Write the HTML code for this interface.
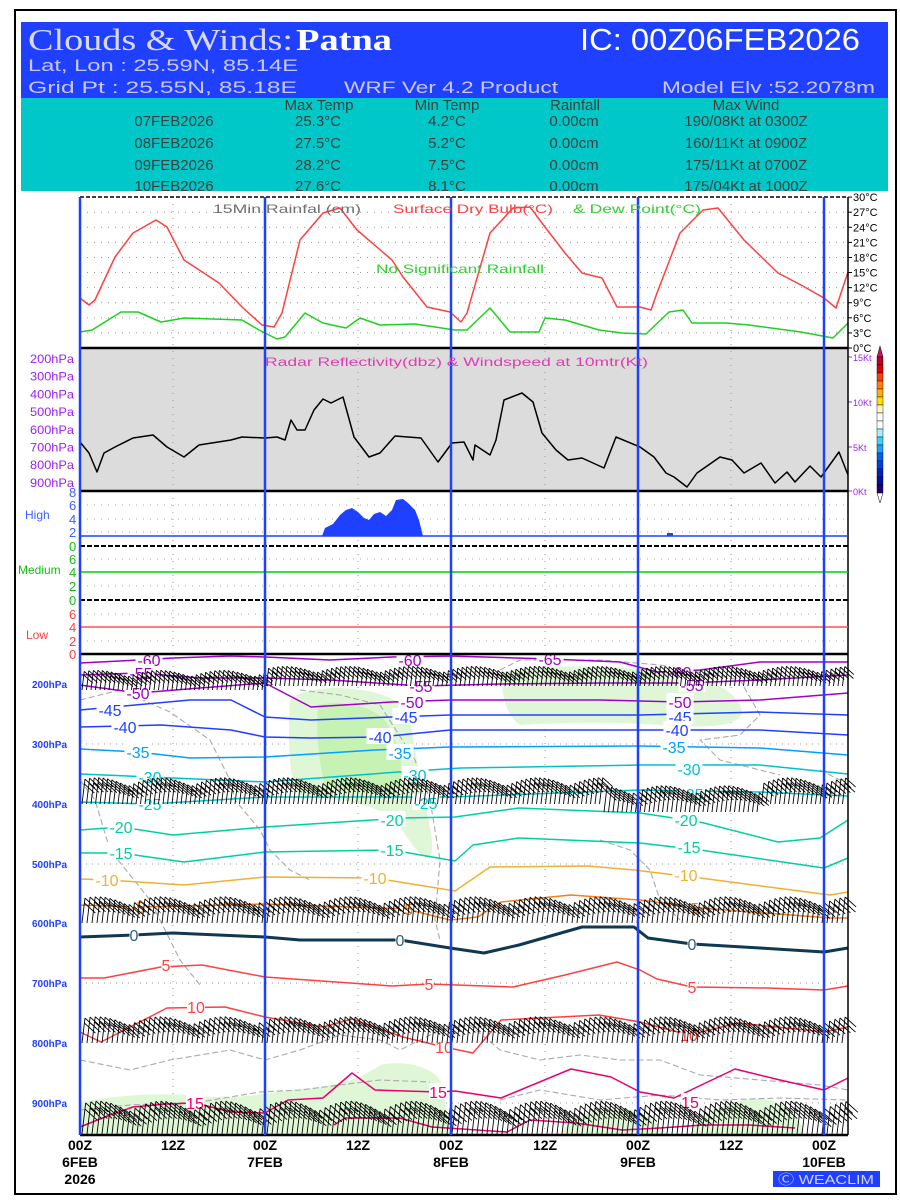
<!DOCTYPE html>
<html><head><meta charset="utf-8"><style>
html,body{margin:0;padding:0;background:#fff;}
svg{display:block;font-family:"Liberation Sans",sans-serif;}
</style></head><body>
<svg id="s" width="900" height="1200" viewBox="0 0 900 1200" xmlns="http://www.w3.org/2000/svg">
<rect x="0" y="0" width="900" height="1200" fill="#fff"/>
<rect x="15" y="10" width="881" height="1184" fill="none" stroke="#000" stroke-width="2"/>
<rect x="21" y="22" width="867" height="76" fill="#2040ff"/>
<rect x="21" y="98" width="867" height="93" fill="#00c8c8"/>
<text x="28" y="50" font-size="31" fill="#d8d8f0" font-family="Liberation Serif,serif" textLength="265" lengthAdjust="spacingAndGlyphs">Clouds &amp; Winds:</text>
<text x="296" y="50" font-size="31" fill="#fff" font-weight="bold" font-family="Liberation Serif,serif" textLength="96" lengthAdjust="spacingAndGlyphs">Patna</text>
<text x="580" y="50" font-size="31" fill="#fff" textLength="280" lengthAdjust="spacingAndGlyphs">IC: 00Z06FEB2026</text>
<text x="28" y="71" font-size="17" fill="#c8c8f8" textLength="270" lengthAdjust="spacingAndGlyphs">Lat, Lon : 25.59N, 85.14E</text>
<text x="28" y="93" font-size="17" fill="#c8c8f8" textLength="269" lengthAdjust="spacingAndGlyphs">Grid Pt  : 25.55N, 85.18E</text>
<text x="344" y="93" font-size="17" fill="#c8c8f8" textLength="214" lengthAdjust="spacingAndGlyphs">WRF Ver 4.2 Product</text>
<text x="662" y="93" font-size="17" fill="#c8c8f8" textLength="213" lengthAdjust="spacingAndGlyphs">Model Elv :52.2078m</text>
<g font-size="15" fill="#404040" text-anchor="middle">
<text x="319" y="110">Max Temp</text><text x="447" y="110">Min Temp</text><text x="575" y="110">Rainfall</text><text x="746" y="110">Max Wind</text>
<text x="174" y="126">07FEB2026</text><text x="318" y="126">25.3°C</text><text x="447" y="126">4.2°C</text><text x="574" y="126">0.00cm</text><text x="746" y="126">190/08Kt at 0300Z</text>
<text x="174" y="148">08FEB2026</text><text x="318" y="148">27.5°C</text><text x="447" y="148">5.2°C</text><text x="574" y="148">0.00cm</text><text x="746" y="148">160/11Kt at 0900Z</text>
<text x="174" y="170">09FEB2026</text><text x="318" y="170">28.2°C</text><text x="447" y="170">7.5°C</text><text x="574" y="170">0.00cm</text><text x="746" y="170">175/11Kt at 0700Z</text>
<text x="174" y="191">10FEB2026</text><text x="318" y="191">27.6°C</text><text x="447" y="191">8.1°C</text><text x="574" y="191">0.00cm</text><text x="746" y="191">175/04Kt at 1000Z</text>
</g>
<rect x="80" y="348" width="768" height="143" fill="#dcdcdc"/>
<g id="grid"></g>
<g id="shade"></g>
<g id="lines"></g>
<g id="barbs" stroke="#000" stroke-width="0.9" fill="none"></g>
<g id="labs"></g>
<line x1="80" y1="197" x2="848" y2="197" stroke="#000" stroke-width="1.5" stroke-dasharray="4,2"/>
<line x1="80" y1="348" x2="848" y2="348" stroke="#000" stroke-width="2.5"/>
<line x1="80" y1="491" x2="848" y2="491" stroke="#000" stroke-width="2.5"/>
<line x1="80" y1="546" x2="848" y2="546" stroke="#000" stroke-width="2" stroke-dasharray="5,2"/>
<line x1="80" y1="600" x2="848" y2="600" stroke="#000" stroke-width="2" stroke-dasharray="5,2"/>
<line x1="80" y1="654" x2="848" y2="654" stroke="#000" stroke-width="2.5"/>
<line x1="80" y1="1135" x2="848" y2="1135" stroke="#000" stroke-width="2.5"/>
<line x1="848" y1="197" x2="848" y2="1135" stroke="#000" stroke-width="1.5"/>
<line x1="80" y1="536" x2="848" y2="536" stroke="#2040ff" stroke-width="1.5"/>
<line x1="80" y1="572" x2="848" y2="572" stroke="#00d000" stroke-width="1.5"/>
<line x1="80" y1="627" x2="848" y2="627" stroke="#ff5050" stroke-width="1.5"/>
<g id="vb" stroke="#2040ff" stroke-width="2.5"></g>
<g font-size="12" fill="#e03cb0"><text x="265" y="366" textLength="383" lengthAdjust="spacingAndGlyphs">Radar Reflectivity(dbz) &amp; Windspeed at 10mtr(Kt)</text></g>
<text x="213" y="213" font-size="12" fill="#707070" textLength="148" lengthAdjust="spacingAndGlyphs">15Min Rainfal (cm)</text>
<text x="393" y="213" font-size="12" fill="#ff4040" textLength="160" lengthAdjust="spacingAndGlyphs">Surface Dry Bulb(°C)</text>
<text x="573" y="213" font-size="12" fill="#30d030" textLength="128" lengthAdjust="spacingAndGlyphs">&amp; Dew Point(°C)</text>
<text x="376" y="273" font-size="12" fill="#30d030" textLength="168" lengthAdjust="spacingAndGlyphs">No Significant Rainfall</text>
<g id="cb"></g>
<g font-size="14" font-weight="bold" text-anchor="middle" font-family="Liberation Sans Narrow,Liberation Sans,sans-serif">
<text x="80" y="1150">00Z</text><text x="80" y="1167">6FEB</text><text x="80" y="1184">2026</text>
<text x="173" y="1150">12Z</text>
<text x="265" y="1150">00Z</text><text x="265" y="1167">7FEB</text>
<text x="358" y="1150">12Z</text>
<text x="451" y="1150">00Z</text><text x="451" y="1167">8FEB</text>
<text x="545" y="1150">12Z</text>
<text x="638" y="1150">00Z</text><text x="638" y="1167">9FEB</text>
<text x="731" y="1150">12Z</text>
<text x="824" y="1150">00Z</text><text x="824" y="1167">10FEB</text>
</g>
<rect x="773" y="1171" width="107" height="16" fill="#2040ff"/>
<text x="778" y="1184" font-size="13" fill="#d0d0ff" textLength="96" lengthAdjust="spacingAndGlyphs">Ⓒ WEACLIM</text>
</svg>
<script>
const NS="http://www.w3.org/2000/svg";
function el(p,t,a,txt){const e=document.createElementNS(NS,t);for(const k in a)e.setAttribute(k,a[k]);if(txt!==undefined)e.textContent=txt;document.getElementById(p).appendChild(e);return e;}
function pts(a){return a.map(p=>p.join(",")).join(" ");}
function pl(p,a,c,w,extra){const o={points:pts(a),fill:"none",stroke:c,"stroke-width":w,"stroke-linejoin":"round"};Object.assign(o,extra||{});return el(p,"polyline",o);}
for(let t=3;t<30;t+=3){const y=348-t*5.03;el("grid","line",{x1:80,y1:y,x2:848,y2:y,stroke:"#999","stroke-width":1,"stroke-dasharray":"1,6"});}
[505,519,532,559,586,614,641].forEach(y=>el("grid","line",{x1:80,y1:y,x2:848,y2:y,stroke:"#aaa","stroke-width":1,"stroke-dasharray":"1,6"}));
[744,864,983,1103].forEach(y=>el("grid","line",{x1:80,y1:y,x2:848,y2:y,stroke:"#999","stroke-width":1,"stroke-dasharray":"1,5"}));
[173,358,545,731].forEach(x=>el("grid","line",{x1:x,y1:197,x2:x,y2:1135,stroke:"#999","stroke-width":1,"stroke-dasharray":"1,6"}));
[80,265,451,638,824].forEach(x=>el("vb","line",{x1:x,y1:197,x2:x,y2:1135}));
for(let t=0;t<=30;t+=3){const y=348-t*5.03;el("labs","line",{x1:848,y1:y,x2:852,y2:y,stroke:"#000"});el("labs","text",{x:853,y:y+4,"font-size":11,fill:"#000"},t+"°C");}
[[357,"15Kt"],[402,"10Kt"],[447,"5Kt"],[491,"0Kt"]].forEach(a=>{el("labs","line",{x1:848,y1:a[0],x2:852,y2:a[0],stroke:"#a020f0"});el("labs","text",{x:853,y:a[0]+4,"font-size":9,fill:"#a020f0"},a[1]);});
["200hPa","300hPa","400hPa","500hPa","600hPa","700hPa","800hPa","900hPa"].forEach((s,i)=>el("labs","text",{x:30,y:363+i*17.7,"font-size":12,fill:"#a020f0",textLength:44,lengthAdjust:"spacingAndGlyphs"},s));
[[200,684],[300,744],[400,804],[500,864],[600,923],[700,983],[800,1043],[900,1103]].forEach(a=>el("labs","text",{x:32,y:a[1]+4,"font-size":10,fill:"#2040ff","font-weight":"bold"},a[0]+"hPa"));
[[8,492],[6,505],[4,519],[2,532]].forEach(a=>el("labs","text",{x:69,y:a[1]+5,"font-size":13,fill:"#4060ff"},a[0]));
[[0,546],[6,559],[4,572],[2,586],[0,600]].forEach(a=>el("labs","text",{x:69,y:a[1]+5,"font-size":13,fill:"#10c010"},a[0]));
[[6,614],[4,627],[2,641],[0,654]].forEach(a=>el("labs","text",{x:69,y:a[1]+5,"font-size":13,fill:"#ff4040"},a[0]));
el("labs","text",{x:25,y:519,"font-size":12,fill:"#4060ff"},"High");
el("labs","text",{x:18,y:574,"font-size":12,fill:"#10c010"},"Medium");
el("labs","text",{x:26,y:639,"font-size":12,fill:"#ff4040"},"Low");
const cbc=["#c00020","#e00000","#ff4000","#ff8000","#ffb000","#ffe000","#fff8c0","#fff","#fff","#a0f0ff","#40d0ff","#20a0ff","#0060ff","#0040e0","#0020c0","#0010a0","#200080"];
el("cb","polygon",{points:"877,357 880,346 883,357",fill:"#d01060",stroke:"#000","stroke-width":0.5});
cbc.forEach((c,i)=>el("cb","rect",{x:877,y:357+i*8,width:6,height:8,fill:c,stroke:"#000","stroke-width":0.4}));
el("cb","polygon",{points:"877,493 880,503 883,493",fill:"#fff",stroke:"#000","stroke-width":0.5});
const g1="#dff7d6",g2="#c6f2b4";
el("shade","path",{d:"M290,700 C300,690 330,685 360,690 C380,692 405,700 410,720 C415,750 420,780 425,800 C430,830 435,845 430,858 C420,860 410,840 395,820 C370,800 330,800 300,795 C288,780 288,740 290,700Z",fill:g1});
el("shade","path",{d:"M318,705 C340,700 370,705 385,720 C400,745 405,770 400,790 C380,795 340,790 325,785 C318,760 316,730 318,705Z",fill:g2});
el("shade","path",{d:"M503,672 C530,665 600,665 650,670 C700,672 740,690 742,712 C740,728 700,728 660,725 C620,722 560,722 520,725 C505,715 500,690 503,672Z",fill:g1});
el("shade","path",{d:"M80,1102 C120,1095 160,1092 200,1096 C240,1100 270,1092 290,1090 C330,1088 360,1080 380,1065 C400,1060 430,1065 440,1080 C446,1100 448,1120 450,1135 L80,1135Z",fill:g1});
el("shade","path",{d:"M560,1135 C570,1115 600,1105 630,1110 C650,1115 660,1125 668,1135Z",fill:g1});
el("shade","path",{d:"M690,1135 C700,1110 740,1095 770,1100 C790,1105 800,1120 805,1135Z",fill:g1});
const gd={"stroke-dasharray":"6,3"};
[[[80,700],[120,690],[170,712],[210,740],[230,780],[235,800],[260,830],[270,850],[290,870],[310,880]],
 [[300,690],[340,695],[380,705],[415,760],[430,800],[440,860],[435,920],[440,940]],
 [[500,670],[520,660],[600,660],[660,665],[740,680],[760,715],[740,735],[700,740],[720,760],[780,775]],
 [[80,780],[95,800],[110,850],[150,900],[180,960],[200,985]],
 [[80,1060],[130,1070],[170,1060],[230,1050],[265,1060],[300,1050],[340,1035],[380,1040],[400,1050],[440,1030],[470,1025],[500,1050],[540,1060],[580,1055],[620,1060],[660,1060],[700,1075],[760,1080],[820,1085],[848,1090]],
 [[80,1110],[130,1105],[200,1102],[260,1092],[300,1090],[340,1085],[380,1080],[430,1082]],
 [[500,1100],[540,1090],[600,1100],[660,1095],[720,1100],[780,1098],[848,1100]],
 [[600,840],[630,850],[650,870],[660,900],[680,920]],
 [[820,770],[840,780],[848,790]]].forEach(a=>pl("shade",a,"#aaa",1.1,gd));
pl("lines",[[80,298],[89,305],[95,300],[115,257],[133,233],[156,220],[167,227],[184,260],[219,283],[242,307],[262,325],[274,327],[282,313],[300,240],[323,213],[340,208],[357,230],[392,260],[403,277],[427,307],[450,312],[461,322],[467,313],[490,233],[513,208],[530,207],[545,227],[565,253],[582,273],[602,278],[617,307],[640,307],[651,310],[657,293],[680,233],[703,210],[718,208],[744,240],[778,273],[801,285],[824,298],[836,308],[848,272]],"#ff4040",1.5);
pl("lines",[[80,332],[92,330],[121,312],[138,312],[161,322],[173,320],[184,318],[242,320],[259,330],[277,339],[285,337],[305,313],[323,323],[346,328],[360,318],[380,325],[415,324],[455,330],[467,330],[490,308],[510,332],[539,332],[545,318],[565,320],[599,330],[622,333],[646,334],[669,312],[683,310],[692,323],[726,323],[749,325],[801,332],[833,338],[848,323]],"#20d020",1.5);
pl("lines",[[80,442],[89,453],[97,472],[104,453],[115,447],[133,438],[153,435],[167,447],[184,457],[199,445],[231,440],[242,437],[265,438],[277,437],[285,440],[291,420],[297,430],[305,430],[314,410],[323,399],[331,403],[343,397],[354,437],[369,457],[380,453],[395,436],[421,438],[438,462],[452,443],[464,442],[473,460],[475,445],[490,455],[496,440],[504,400],[522,393],[533,402],[542,433],[556,450],[568,460],[582,458],[604,468],[616,437],[640,447],[654,457],[666,473],[674,477],[687,487],[697,473],[720,457],[732,460],[744,473],[761,463],[775,483],[787,472],[795,482],[810,466],[821,477],[839,452],[848,475]],"#000",1.5);
el("lines","polygon",{points:"322,536 325,528 333,524 340,515 346,510 352,508 358,512 364,518 369,520 374,514 380,512 386,516 392,510 396,500 403,499 408,503 415,510 419,520 423,536",fill:"#2040ff"});
el("lines","rect",{x:667,y:533,width:6,height:3,fill:"#2040ff"});
const C=[
["#a000c8",1.5,[[80,663],[120,661],[173,658],[230,656],[265,657],[330,660],[392,657],[451,656],[550,659],[620,662],[657,672],[700,670],[760,662],[848,662]],[[149,660,"-60"],[410,660,"-60"],[550,659,"-65"],[680,672,"-60"]]],
["#a000c8",1.5,[[80,675],[140,673],[200,678],[265,678],[330,680],[421,686],[500,684],[600,683],[686,683],[760,680],[848,675]],[[141,673,"-55"],[421,686,"-55"],[692,685,"-55"]]],
["#a000c8",1.5,[[80,685],[138,693],[200,688],[265,683],[311,707],[392,702],[451,700],[520,700],[600,700],[680,702],[760,700],[848,693]],[[138,693,"-50"],[412,702,"-50"],[680,702,"-50"]]],
["#2040ff",1.5,[[80,710],[190,700],[231,700],[265,717],[311,720],[392,717],[450,715],[640,715],[760,712],[848,715]],[[110,710,"-45"],[406,717,"-45"],[680,717,"-45"]]],
["#2040ff",1.5,[[80,727],[161,725],[231,730],[265,737],[311,738],[380,737],[450,730],[634,730],[760,730],[848,735]],[[125,727,"-40"],[380,737,"-40"],[677,730,"-40"]]],
["#00a0ff",1.5,[[80,749],[138,752],[190,758],[265,757],[375,750],[450,747],[640,746],[760,748],[848,755]],[[138,752,"-35"],[400,753,"-35"],[674,747,"-35"]]],
["#00c0d0",1.5,[[80,774],[150,777],[265,782],[398,772],[461,768],[640,765],[760,765],[848,774]],[[150,777,"-30"],[415,775,"-30"],[689,769,"-30"]]],
["#00c8c8",1.5,[[80,802],[150,804],[265,797],[450,797],[640,790],[760,792],[848,796]],[[150,804,"-25"],[426,803,"-25"],[692,794,"-25"]]],
["#00d0a0",1.5,[[80,830],[121,827],[173,835],[265,827],[403,818],[455,817],[519,808],[640,813],[700,822],[778,842],[820,838],[848,820]],[[121,827,"-20"],[392,820,"-20"],[686,820,"-20"]]],
["#00d0a0",1.5,[[80,853],[121,853],[184,862],[265,852],[392,850],[455,861],[473,845],[519,838],[640,843],[700,850],[824,868],[848,858]],[[121,853,"-15"],[392,850,"-15"],[689,847,"-15"]]],
["#f0b030",1.5,[[80,879],[107,880],[184,885],[265,877],[375,878],[455,891],[490,867],[588,866],[634,870],[700,878],[830,895],[848,892]],[[107,880,"-10"],[375,878,"-10"],[686,875,"-10"]]],
["#f08020",1.5,[[80,905],[138,907],[265,904],[406,909],[450,920],[478,917],[501,902],[571,895],[640,900],[700,908],[830,918],[848,918]],[[138,907,"-5"],[406,909,"-5"],[692,908,"-5"]]],
["#103850",3,[[80,937],[134,935],[173,933],[265,937],[300,940],[400,940],[450,948],[484,953],[519,945],[582,927],[634,927],[648,938],[692,944],[760,948],[824,952],[848,948]],[[134,935,"0"],[400,940,"0"],[692,944,"0"]]],
["#ff4040",1.5,[[80,978],[104,978],[161,967],[202,965],[265,977],[392,986],[429,984],[513,987],[565,975],[617,962],[640,970],[657,979],[692,987],[767,988],[824,990],[848,986]],[[166,965,"5"],[429,984,"5"],[692,987,"5"]]],
["#ff4040",1.5,[[80,1032],[101,1042],[167,1008],[225,1007],[265,1017],[323,1027],[352,1019],[403,1037],[444,1047],[473,1053],[501,1020],[599,1015],[640,1022],[689,1035],[738,1023],[824,1032],[848,1027]],[[196,1007,"10"],[444,1047,"10"],[689,1035,"10"]]],
["#e8006c",1.5,[[80,1127],[110,1115],[133,1107],[167,1104],[195,1103],[231,1112],[265,1113],[288,1100],[323,1098],[352,1073],[375,1090],[438,1092],[455,1091],[501,1098],[571,1069],[611,1077],[640,1092],[674,1098],[735,1069],[780,1080],[824,1090],[848,1078]],[[195,1103,"15"],[438,1092,"15"],[690,1102,"15"]]],
["#e8006c",1.5,[[334,1125],[345,1118],[400,1118],[432,1127],[507,1132],[530,1120],[576,1123],[622,1130],[660,1128],[703,1125],[749,1125],[795,1128]],[]]
];
C.forEach(c=>{pl("lines",c[2],c[0],c[1]);c[3].forEach(l=>{el("lines","rect",{x:l[0]-(l[2].length*4.5),y:l[1]-9,width:l[2].length*9,height:16,fill:"#fff"});el("lines","text",{x:l[0],y:l[1]+6,"font-size":16,fill:c[0]==="#103850"?"#306080":c[0],"text-anchor":"middle"},l[2]);});});
function row(fn,len,step,fl){
 let d="";
 for(let x=82;x<846;x+=step){
  const b=fn(x), L=len*(0.75+0.35*Math.abs(Math.sin(x*0.05)));
  const tx=x+L*0.12, ty=b-L;
  d+=`M${x},${b}L${tx.toFixed(1)},${ty.toFixed(1)}`;
  for(let k=0;k<2;k++){const f=1-k*0.2;const sx=x+(tx-x)*f, sy=b+(ty-b)*f;d+=`M${sx.toFixed(1)},${sy.toFixed(1)}l${fl},${(fl*0.9).toFixed(1)}`;}
 }
 el("barbs","path",{d:d});
}
row(x=>686+(x<265?4:0),18,4.5,9);
row(x=>804+(x>600&&x<760?8:0),24,4.5,10);
row(x=>923,24,5,11);
row(x=>1043,24,5,11);
row(x=>1134,30,5,12);
</script>
</body></html>
